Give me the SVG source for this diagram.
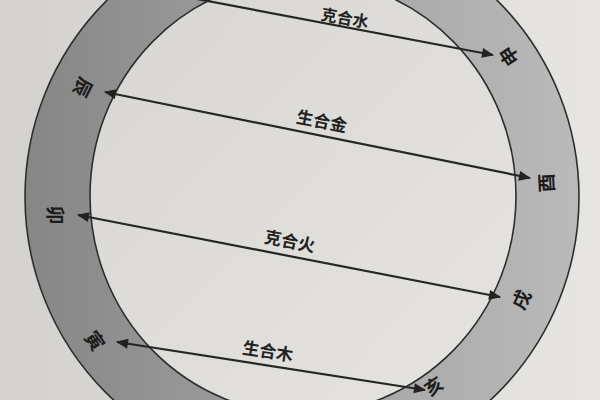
<svg xmlns="http://www.w3.org/2000/svg" width="600" height="400" viewBox="0 0 600 400">
  <defs>
    <linearGradient id="bg" x1="0" y1="0" x2="1" y2="0">
      <stop offset="0" stop-color="#d4d2ce"/>
      <stop offset="1" stop-color="#e6e5e1"/>
    </linearGradient>
    <linearGradient id="ringFill" x1="0" y1="0" x2="1" y2="0">
      <stop offset="0" stop-color="#868686"/>
      <stop offset="0.5" stop-color="#a2a2a2"/>
      <stop offset="1" stop-color="#bababa"/>
    </linearGradient>
    <linearGradient id="disc" x1="0" y1="0" x2="1" y2="1">
      <stop offset="0" stop-color="#d8d6d2"/>
      <stop offset="1" stop-color="#e6e4e0"/>
    </linearGradient>
    <marker id="arrow" viewBox="0 0 12 10" refX="11" refY="5" markerWidth="13" markerHeight="10" markerUnits="userSpaceOnUse" orient="auto-start-reverse">
      <path d="M0,0 L12,5 L0,10 Z" fill="#222"/>
    </marker>
  </defs>
  <style>
    .ring { fill: url(#ringFill); stroke: #2e2e2e; stroke-width: 1.6; }
    .disc { fill: url(#disc); stroke: #2e2e2e; stroke-width: 1.6; }
    .conn { stroke: #262626; stroke-width: 2.2; fill: none; marker-start: url(#arrow); marker-end: url(#arrow); }
    .branch { font-family: "Noto Sans CJK SC", "Noto Sans CJK TC", sans-serif; font-size: 19px; font-weight: 700; fill: #1c1c1c; text-anchor: middle; dominant-baseline: central; }
    .label { font-family: "Noto Sans CJK SC", "Noto Sans CJK TC", sans-serif; font-size: 17px; font-weight: 700; fill: #222; text-anchor: middle; dominant-baseline: central; }
  </style>

  <rect x="0" y="0" width="600" height="400" fill="url(#bg)"/>

  <circle class="ring" cx="302" cy="197" r="277"/>
  <ellipse class="disc" cx="303" cy="196" rx="213" ry="218"/>

  <g id="connectors">
    <line class="conn" x1="160" y1="-8" x2="493" y2="55"/>
    <line class="conn" x1="105" y1="92" x2="530" y2="178"/>
    <line class="conn" x1="78" y1="215" x2="500" y2="297"/>
    <line class="conn" x1="117" y1="342" x2="425" y2="390"/>
    <text class="label" style="font-size:16px" transform="translate(345,17) rotate(10)">克合水</text>
    <text class="label" transform="translate(322,120) rotate(11)">生合金</text>
    <text class="label" transform="translate(290,240) rotate(11)">克合火</text>
    <text class="label" transform="translate(268,350) rotate(9)">生合木</text>
  </g>

  <g id="chen"><text class="branch" transform="translate(84,88) rotate(117)">辰</text></g>
  <g id="mao"><text class="branch" transform="translate(56,215) rotate(90)">卯</text></g>
  <g id="yin"><text class="branch" transform="translate(96,340) rotate(55)">寅</text></g>
  <g id="shen"><text class="branch" transform="translate(508,57) rotate(-124)">申</text></g>
  <g id="you"><text class="branch" transform="translate(545,183) rotate(-93)">酉</text></g>
  <g id="xu"><text class="branch" transform="translate(520,299) rotate(-65)">戌</text></g>
  <g id="hai"><text class="branch" style="font-size:18px" transform="translate(433,385) rotate(-34)">亥</text></g>
</svg>
